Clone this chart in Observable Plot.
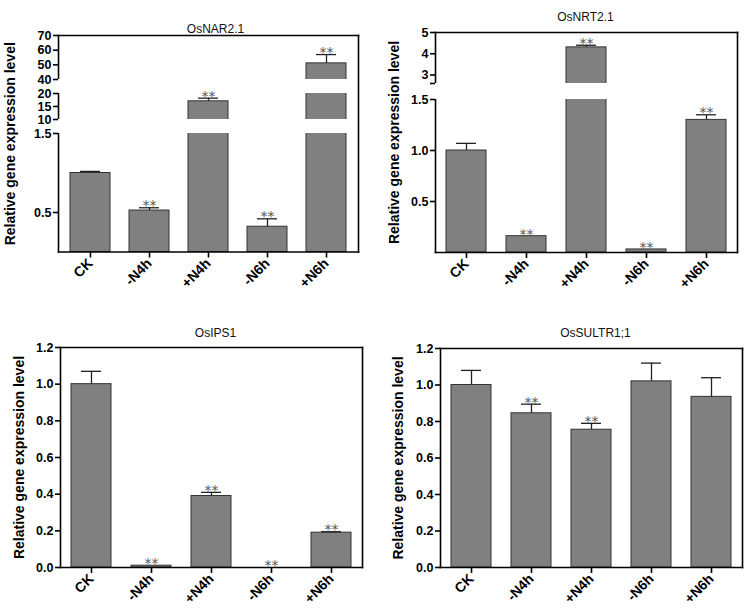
<!DOCTYPE html>
<html><head><meta charset="utf-8">
<script src="https://cdn.jsdelivr.net/npm/d3@7"></script>
<script src="https://cdn.jsdelivr.net/npm/@observablehq/plot@0.6"></script>
<style>
body{margin:0;background:#fff;}
#wrap{position:relative;width:747px;height:615px;overflow:hidden;}
.panel{position:absolute;}
</style></head><body><div id="wrap"></div>
<script>
// ---- data ----
const categories = ["CK", "-N4h", "+N4h", "-N6h", "+N6h"];
const titles = ["OsNAR2.1", "OsNRT2.1", "OsIPS1", "OsSULTR1;1"];
const yLabel = "Relative gene expression level";

const narValues = [1.0, 0.525, 17.0, 0.32, 51];
const narErrors = [1.02, 0.56, 18.2, 0.42, 57];
const narSig = ["", "**", "**", "**", "**"];

const nrtValues = [1.0, 0.16, 4.3, 0.03, 1.30];
const nrtErrors = [1.07, 0.16, 4.4, 0.03, 1.35];
const nrtSig = ["", "**", "**", "**", "**"];

const ipsValues = [1.0, 0.01, 0.39, 0.0, 0.19];
const ipsErrors = [1.07, 0.01, 0.41, 0.0, 0.195];
const ipsSig = ["", "**", "**", "**", "**"];

const sultrValues = [1.0, 0.845, 0.755, 1.02, 0.935];
const sultrErrors = [1.08, 0.895, 0.79, 1.12, 1.04];
const sultrSig = ["", "**", "**", "", ""];

// tick values / labels
const narTicks = [0.5, 1.5, 10, 15, 20, 40, 50, 60, 70];
const narTickLabels = ["0.5", "1.5", "10", "15", "20", "40", "50", "60", "70"];
const nrtTicks = [0.5, 1.0, 1.5, 2.6, 3, 4, 5];
const nrtTickLabels = ["0.5", "1.0", "1.5", "", "3", "4", "5"];
const linTicks = [0, 0.2, 0.4, 0.6, 0.8, 1.0, 1.2];
const linTickLabels = ["0.0", "0.2", "0.4", "0.6", "0.8", "1.0", "1.2"];

// broken-axis definitions: data breakpoints and their share of the axis height
const narDomain = [0, 1.5, 10, 20, 40, 70];
const narShare = [0, 118.5, 132.5, 158.5, 172.5, 216.5];
const narBreaks = [[1.5, 10], [20, 40]];
const nrtDomain = [0, 1.5, 2.6, 5];
const nrtShare = [0, 153, 169, 220];
const nrtBreaks = [[1.5, 2.6]];
const linDomain = [0, 1.2];
const linShare = [0, 1.2];

// ---- layout ----
const panels = [
  {values: narValues, errors: narErrors, sig: narSig, ticks: narTicks, tickLabels: narTickLabels, breaks: narBreaks,
   domain: narDomain, share: narShare,
   left: 0, top: 0, width: 373, height: 300, mL: 58, mR: 15, mT: 35, mB: 48.5, titleDx: 7, titleDy: -11, labelDx: -48},
  {values: nrtValues, errors: nrtErrors, sig: nrtSig, ticks: nrtTicks, tickLabels: nrtTickLabels, breaks: nrtBreaks,
   domain: nrtDomain, share: nrtShare,
   left: 370, top: 0, width: 377, height: 300, mL: 65, mR: 10, mT: 32, mB: 48, titleDx: -1, titleDy: -20, labelDx: -41},
  {values: ipsValues, errors: ipsErrors, sig: ipsSig, ticks: linTicks, tickLabels: linTickLabels, breaks: [],
   domain: linDomain, share: linShare,
   left: 0, top: 300, width: 373, height: 315, mL: 60, mR: 11, mT: 47, mB: 48, titleDx: 4, titleDy: -19, labelDx: -41},
  {values: sultrValues, errors: sultrErrors, sig: sultrSig, ticks: linTicks, tickLabels: linTickLabels, breaks: [],
   domain: linDomain, share: linShare,
   left: 370, top: 300, width: 377, height: 315, mL: 70, mR: 5, mT: 48, mB: 48, titleDx: 4, titleDy: -20, labelDx: -42}
];

const wrap = document.getElementById("wrap");

panels.forEach((p, k) => {
  const brk = d3.scaleLinear().domain(p.domain).range(p.share);
  const data = categories.map((c, i) => ({cat: c, v: p.values[i], e: p.errors[i], s: p.sig[i]}));
  const tickPos = p.ticks.map(t => brk(t));
  const labelAt = new Map(tickPos.map((t, i) => [t, p.tickLabels[i]]));
  const withErr = data.filter(d => d.e > d.v);
  const top = p.share[p.share.length - 1];

  const chart = Plot.plot({
    width: p.width, height: p.height,
    marginLeft: p.mL, marginRight: p.mR, marginTop: p.mT, marginBottom: p.mB,
    style: {fontFamily: "'Liberation Sans', Arial, sans-serif", background: "transparent", color: "#000"},
    x: {domain: categories, paddingInner: 0.33, paddingOuter: 0.18},
    y: {domain: [0, top]},
    marks: [
      Plot.frame({anchor: "left", stroke: "#000", strokeWidth: 1.6}),
      Plot.barY(data, {x: "cat", y: d => brk(d.v), fill: "#808080", stroke: "#333", strokeWidth: 1}),
      Plot.ruleX(withErr, {x: "cat", y1: d => brk(d.v), y2: d => brk(d.e), stroke: "#222", strokeWidth: 1.3}),
      Plot.tickY(withErr, {x: "cat", y: d => brk(d.e), insetLeft: 10, insetRight: 10, stroke: "#222", strokeWidth: 1.3}),
      Plot.rect(p.breaks, {y1: d => brk(d[0]), y2: d => brk(d[1]), fill: "#fff", insetLeft: -4}),
      Plot.axisY(tickPos, {anchor: "left", tickSize: 5, tickPadding: 2, fontSize: 12.5, fontWeight: "bold",
        tickFormat: d => labelAt.get(d), label: null, stroke: "#000", strokeWidth: 1.6}),
      Plot.axisX({anchor: "bottom", tickSize: 6, tickPadding: 3, tickRotate: -45, fontSize: 14, fontWeight: "bold",
        label: null, stroke: "#000", strokeWidth: 1.6}),
      Plot.frame({anchor: "top", stroke: "#000", strokeWidth: 1.6}),
      Plot.frame({anchor: "right", stroke: "#000", strokeWidth: 1.6}),
      Plot.frame({anchor: "bottom", stroke: "#000", strokeWidth: 1.6}),
      Plot.text(data.filter(d => d.s), {x: "cat", y: d => brk(Math.max(d.v, d.e)), text: "s", lineAnchor: "middle",
        dy: -2, fontSize: 14, fontFamily: "'DejaVu Sans', sans-serif", fill: "#555"}),
      Plot.text([titles[k]], {frameAnchor: "top", dx: p.titleDx, dy: p.titleDy, fontSize: 12, fill: "#111"}),
      Plot.text([yLabel], {frameAnchor: "left", rotate: -90, dx: p.labelDx, textAnchor: "middle",
        fontSize: 14, fontWeight: "bold", fill: "#000"})
    ]
  });
  const div = document.createElement("div");
  div.className = "panel";
  div.style.left = p.left + "px";
  div.style.top = p.top + "px";
  div.appendChild(chart);
  wrap.appendChild(div);
});
</script>
</body></html>
